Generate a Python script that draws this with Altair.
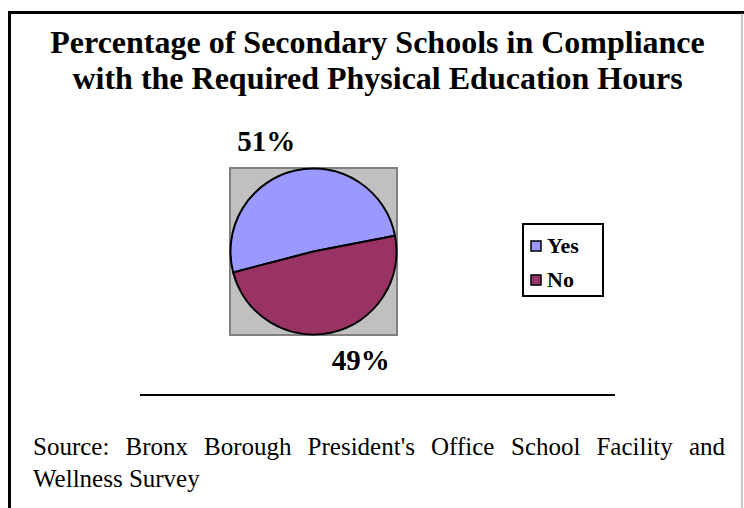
import math
import altair as alt
import pandas as pd

# ---------------- data ----------------
categories = ["Yes", "No"]
values = [51, 49]
slice_colors = ["#9999FF", "#993366"]

title_lines = [
    "Percentage of Secondary Schools in Compliance",
    "with the Required Physical Education Hours",
]
source_line1_words = ["Source:", "Bronx", "Borough", "President's", "Office",
                      "School", "Facility", "and"]
source_line2 = "Wellness Survey"

# ---------------- layout ----------------
W, H = 744, 508
CX, CY, R = 313.5, 251.5, 83
START = math.radians(255.4)
SERIF = "Liberation Serif"
word_x = [33, 125.5, 204, 307.6, 431, 511, 596.4, 689]

pie_df = pd.DataFrame({
    "category": categories,
    "value": values,
    "order": list(range(len(categories))),
    "label": [f"{v}%" for v in values],
})
one = pd.DataFrame({"k": [0]})

theta_scale = alt.Scale(range=[START, START + 2 * math.pi])
base = alt.Chart(pie_df).encode(
    theta=alt.Theta("value:Q", stack=True, scale=theta_scale),
    order=alt.Order("order:Q"),
)

pie = base.mark_arc(outerRadius=R, stroke="black", strokeWidth=2).encode(
    x=alt.value(CX), y=alt.value(CY),
    color=alt.Color(
        "category:N",
        scale=alt.Scale(domain=categories, range=slice_colors),
        legend=alt.Legend(
            title=None, orient="none", legendX=525, legendY=235,
            padding=0, symbolType="square", symbolSize=100,
            symbolStrokeColor="black", symbolStrokeWidth=1.5,
            labelFont=SERIF, labelFontWeight="bold", labelFontSize=22,
            labelColor="black", labelOffset=0, rowPadding=12,
        ),
    ),
)

labels = base.mark_text(
    radius=119.5, thetaOffset=-0.183, font=SERIF, fontWeight="bold",
    fontSize=29, color="black", align="center", baseline="middle",
).encode(x=alt.value(CX), y=alt.value(CY), detail="category:N", text="label:N")

plot_bg = alt.Chart(one).mark_rect(fill="#C0C0C0", stroke="#808080", strokeWidth=2).encode(
    x=alt.value(230), x2=alt.value(397), y=alt.value(168), y2=alt.value(335))

legend_box = alt.Chart(one).mark_rect(fill="white", stroke="black", strokeWidth=2).encode(
    x=alt.value(523), x2=alt.value(603), y=alt.value(224), y2=alt.value(296))

border_top = alt.Chart(one).mark_rule(color="black", strokeWidth=3).encode(
    x=alt.value(8), x2=alt.value(W), y=alt.value(12.5))
border_left = alt.Chart(one).mark_rule(color="black", strokeWidth=3).encode(
    x=alt.value(9.5), y=alt.value(11), y2=alt.value(H))
border_right = alt.Chart(one).mark_rule(color="#909090", strokeWidth=1).encode(
    x=alt.value(742), y=alt.value(13), y2=alt.value(H))
hr = alt.Chart(one).mark_rule(color="black", strokeWidth=2).encode(
    x=alt.value(140), x2=alt.value(615), y=alt.value(395))

layers = [border_top, border_left, border_right, plot_bg, pie, labels, legend_box, hr]

for i, line in enumerate(title_lines):
    layers.append(alt.Chart(one).mark_text(
        text=line, font=SERIF, fontWeight="bold", fontSize=32, color="black",
        align="center", baseline="alphabetic",
    ).encode(x=alt.value(377.5), y=alt.value(53 + i * 36)))

for wx, word in zip(word_x, source_line1_words):
    layers.append(alt.Chart(one).mark_text(
        text=word, font=SERIF, fontSize=25, color="black",
        align="left", baseline="alphabetic",
    ).encode(x=alt.value(wx), y=alt.value(455)))

layers.append(alt.Chart(one).mark_text(
    text=source_line2, font=SERIF, fontSize=25, color="black",
    align="left", baseline="alphabetic",
).encode(x=alt.value(33), y=alt.value(487)))

chart = alt.layer(*layers).properties(
    width=W, height=H, padding=0,
    autosize=alt.AutoSizeParams(type="none"),
    background="white",
).configure_view(stroke=None)

chart.save("out.html", embed_options={"renderer": "svg", "actions": False})
